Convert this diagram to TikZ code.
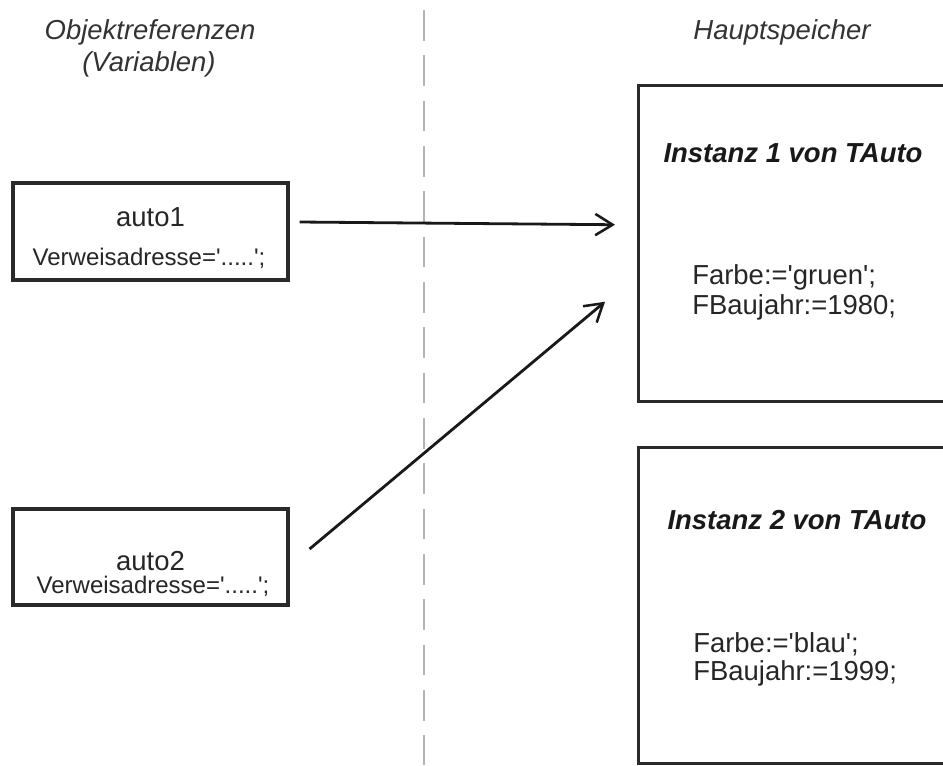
\documentclass[tikz,border=0pt]{standalone}
\usepackage{fontspec}
\setmainfont{Liberation Sans}
\usetikzlibrary{arrows.meta,calc}
\definecolor{boxline}{HTML}{2A2A2A}
\definecolor{dashgray}{HTML}{B4B4B4}
\newcommand{\sq}{\textquotesingle}
\begin{document}
\begin{tikzpicture}[x=0.75pt,y=-0.75pt,
  refbox/.style={draw=boxline,line width=2.6pt,fill=white,inner sep=0pt},
  lbl/.style={font=\fontsize{20.6}{24}\selectfont\itshape,text=black!80,inner sep=0pt},
  plain/.style={font=\fontsize{20.6}{24}\selectfont,text=black!85,inner sep=0pt},
  small/.style={font=\fontsize{18}{21}\selectfont,text=black!85,inner sep=0pt},
  head/.style={font=\fontsize{20.6}{24}\selectfont\bfseries\itshape,text=black!90,inner sep=0pt},
  arr/.style={line width=2.1pt,black!90,-{Straight Barb[length=13pt,width=16pt,line width=1.9pt]}}]
\useasboundingbox[fill=white] (0,0) rectangle (943,765);
\begin{scope}
\clip (0,0) rectangle (943,765);
% divider
\draw[dashgray,line width=1.6pt,dash pattern=on 23pt off 11pt] (424,10) -- (424,765);
% titles
\node[lbl] (t1) at (150,32) {Objektreferenzen};
\node[lbl] (t2) at (149,64) {(Variablen)};
\node[lbl] (t3) at (782,32) {Hauptspeicher};
% left boxes
\node[refbox,minimum width=206pt,minimum height=72.5pt] (a1) at (150.5,231.5) {};
\node[plain] (a1n) at (150.5,217) {auto1};
\node[small] (a1v) at (149,258) {Verweisadresse=\sq.....\sq;};
\node[refbox,minimum width=206pt,minimum height=72pt] (a2) at (150.5,557) {};
\node[plain] (a2n) at (150.5,561) {auto2};
\node[small] (a2v) at (153,586) {Verweisadresse=\sq.....\sq;};
% right boxes (extend past the right edge)
\node[refbox,minimum width=255pt,minimum height=237pt,anchor=north west] (i1) at (637,84) {};
\node[head] (i1h) at (793,153) {Instanz 1 von TAuto};
\node[plain,anchor=west] (i1a) at (692,277) {Farbe:=\sq gruen\sq;};
\node[plain,anchor=west] (i1b) at (692,307) {FBaujahr:=1980;};
\node[refbox,minimum width=255pt,minimum height=237pt,anchor=north west] (i2) at (637,446) {};
\node[head] (i2h) at (797,520) {Instanz 2 von TAuto};
\node[plain,anchor=west] (i2a) at (693,644) {Farbe:=\sq blau\sq;};
\node[plain,anchor=west] (i2b) at (693,673) {FBaujahr:=1999;};
\end{scope}
% connectors
\coordinate (s1) at ($(a1.east)+(10,-9.5)$);
\coordinate (e1) at ($(i1.west)+(-22,-19)$);
\draw[arr] (s1) -- (e1);
\coordinate (s2) at ($(a2.east)+(20,-8)$);
\coordinate (e2) at ($(i1.west)+(-32,58)$);
\draw[arr] (s2) -- (e2);
\end{tikzpicture}
\end{document}
